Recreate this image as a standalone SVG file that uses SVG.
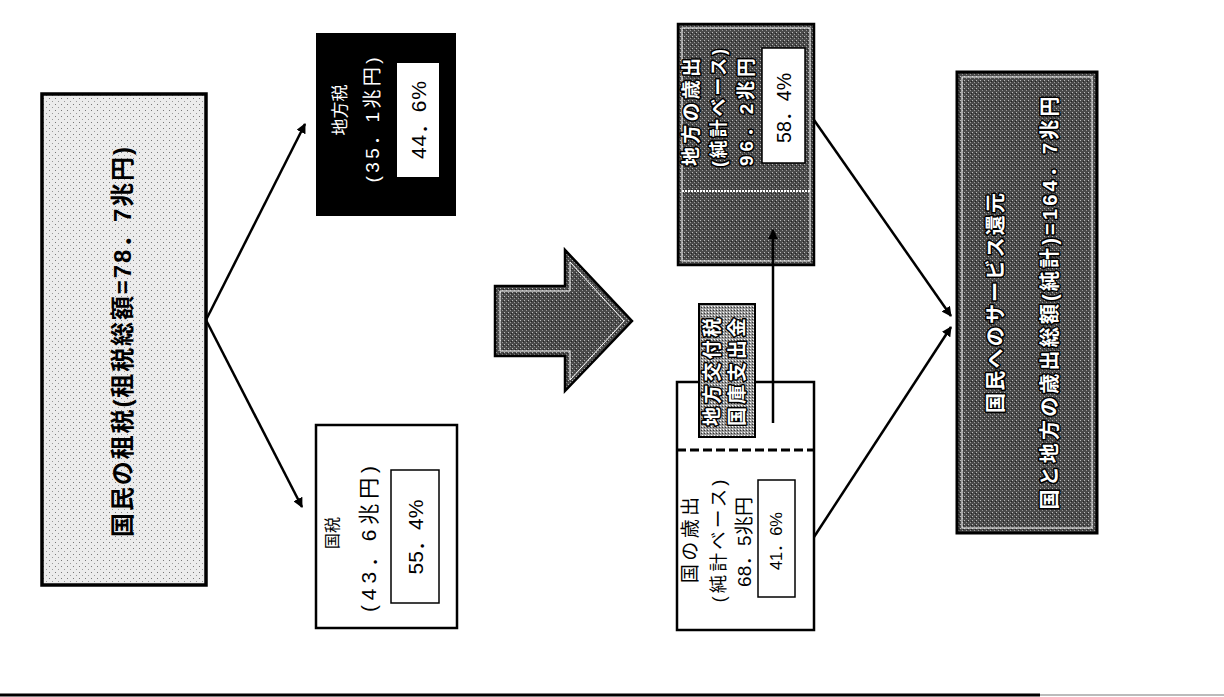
<svg xmlns="http://www.w3.org/2000/svg" width="1224" height="697" viewBox="0 0 1224 697">
<defs>
<pattern id="lightDots" width="6" height="6" patternUnits="userSpaceOnUse">
<rect width="6" height="6" fill="#ececec"/>
<rect x="1" y="2" width="1" height="1" fill="#777"/>
<rect x="4" y="5" width="1" height="1" fill="#999"/>
</pattern>
<pattern id="darkDots" width="4" height="4" patternUnits="userSpaceOnUse">
<rect width="4" height="4" fill="#4a4a4a"/>
<rect x="0" y="0" width="1" height="1" fill="#bbb"/>
<rect x="2" y="2" width="1" height="1" fill="#999"/>
<rect x="3" y="1" width="1" height="1" fill="#222"/>
</pattern>
<pattern id="midDots" width="3" height="3" patternUnits="userSpaceOnUse">
<rect width="3" height="3" fill="#9a9a9a"/>
<rect x="0" y="0" width="1" height="1" fill="#fff"/>
<rect x="2" y="1" width="1" height="1" fill="#333"/>
</pattern>
<marker id="ah" viewBox="0 0 10 10" refX="9" refY="5" markerWidth="4" markerHeight="4" orient="auto">
<path d="M0,0 L10,5 L0,10 z" fill="#000"/>
</marker>
</defs>
<style>
.jp{font-family:"Liberation Sans","Noto Sans CJK JP",sans-serif;}
.bk{fill:#000;}
.wt{fill:#fff;}
.halo{fill:#fff;stroke:#000;stroke-width:3;paint-order:stroke;stroke-linejoin:round;}
.conn{stroke:#000;stroke-width:2.5;fill:none;marker-end:url(#ah);}
</style>

<g id="node-total">
<rect x="42" y="94" width="164" height="491" fill="url(#lightDots)" stroke="#000" stroke-width="3.5"/>
<text class="jp bk" font-size="24" font-weight="bold" text-anchor="middle" dominant-baseline="central" textLength="390" lengthAdjust="spacing" transform="translate(122,342) rotate(-90)">国民の租税(租税総額=78．7兆円)</text>
</g>

<g id="node-chihouzei">
<rect x="316" y="33" width="140" height="183" fill="#000"/>
<text class="jp wt" font-size="17" text-anchor="middle" dominant-baseline="central" transform="translate(340,110) rotate(-90)">地方税</text>
<text class="jp wt" font-size="19" text-anchor="middle" dominant-baseline="central" textLength="125" lengthAdjust="spacing" transform="translate(372,120) rotate(-90)">(35．1兆円)</text>
<rect x="397" y="63" width="42" height="114" fill="#fff"/>
<text class="jp bk" font-size="21" text-anchor="middle" dominant-baseline="central" textLength="78" lengthAdjust="spacing" transform="translate(418,120) rotate(-90)">44．6%</text>
</g>

<g id="node-kokuzei">
<rect x="316" y="425" width="141" height="203" fill="#fff" stroke="#000" stroke-width="2.5"/>
<text class="jp bk" font-size="16" text-anchor="middle" dominant-baseline="central" transform="translate(332,533) rotate(-90)">国税</text>
<text class="jp bk" font-size="21" text-anchor="middle" dominant-baseline="central" textLength="146" lengthAdjust="spacing" transform="translate(368,539) rotate(-90)">(43．6兆円)</text>
<rect x="391" y="470" width="48" height="133" fill="#fff" stroke="#000" stroke-width="1.5"/>
<text class="jp bk" font-size="21" text-anchor="middle" dominant-baseline="central" textLength="75" lengthAdjust="spacing" transform="translate(415,537) rotate(-90)">55．4%</text>
</g>

<g id="node-bigarrow">
<polygon points="495,286 565,286 565,250 632,321 565,391 565,356 495,356" fill="url(#darkDots)" stroke="#000" stroke-width="2.5"/>
<polygon points="500,291 570,291 570,262 624,321 570,380 570,351 500,351" fill="none" stroke="#fff" stroke-width="1"/>
</g>

<g id="node-chihou-saishutsu">
<rect x="678" y="24" width="136" height="241" fill="url(#darkDots)" stroke="#000" stroke-width="2.5"/>
<rect x="682" y="28" width="128" height="233" fill="none" stroke="#fff" stroke-width="1"/>
<line x1="682" y1="191" x2="810" y2="191" stroke="#fff" stroke-width="2" stroke-dasharray="2 1"/>
<text class="jp halo" font-size="19" font-weight="bold" text-anchor="middle" dominant-baseline="central" textLength="108" lengthAdjust="spacing" transform="translate(691,112) rotate(-90)">地方の歳出</text>
<text class="jp halo" font-size="18" font-weight="bold" text-anchor="middle" dominant-baseline="central" textLength="118" lengthAdjust="spacing" transform="translate(719,108) rotate(-90)">(純計ベース)</text>
<text class="jp halo" font-size="19" font-weight="bold" text-anchor="middle" dominant-baseline="central" textLength="108" lengthAdjust="spacing" transform="translate(746,112) rotate(-90)">96．2兆円</text>
<rect x="762" y="48" width="43" height="115" fill="#fff" stroke="#000" stroke-width="1.5"/>
<text class="jp bk" font-size="19.5" text-anchor="middle" dominant-baseline="central" textLength="70" lengthAdjust="spacing" transform="translate(784,108) rotate(-90)">58．4%</text>
</g>

<g id="node-kuni-saishutsu">
<rect x="677" y="382" width="137" height="248" fill="#fff" stroke="#000" stroke-width="2.5"/>
<line x1="677" y1="450" x2="814" y2="450" stroke="#000" stroke-width="3" stroke-dasharray="9 4"/>
<text class="jp bk" font-size="19" text-anchor="middle" dominant-baseline="central" textLength="86" lengthAdjust="spacing" transform="translate(690,540) rotate(-90)">国の歳出</text>
<text class="jp bk" font-size="18.5" text-anchor="middle" dominant-baseline="central" textLength="123" lengthAdjust="spacing" transform="translate(718,541) rotate(-90)">(純計ベース)</text>
<text class="jp bk" font-size="19" text-anchor="middle" dominant-baseline="central" textLength="90" lengthAdjust="spacing" transform="translate(744,542) rotate(-90)">68．5兆円</text>
<rect x="758" y="480" width="37" height="117" fill="#fff" stroke="#000" stroke-width="1.5"/>
<text class="jp bk" font-size="16.5" text-anchor="middle" dominant-baseline="central" textLength="58" lengthAdjust="spacing" transform="translate(776,541) rotate(-90)">41．6%</text>
</g>

<g id="node-label">
<rect x="699" y="304" width="56" height="133" fill="url(#midDots)" stroke="#000" stroke-width="2"/>
<text class="jp halo" font-size="19" font-weight="bold" text-anchor="middle" dominant-baseline="central" textLength="108" lengthAdjust="spacing" transform="translate(712,372) rotate(-90)">地方交付税</text>
<text class="jp halo" font-size="19" font-weight="bold" text-anchor="middle" dominant-baseline="central" textLength="108" lengthAdjust="spacing" transform="translate(737,372) rotate(-90)">国庫支出金</text>
</g>

<g id="node-service">
<rect x="957" y="72" width="140" height="461" fill="url(#darkDots)" stroke="#000" stroke-width="3"/>
<rect x="962" y="77" width="130" height="451" fill="none" stroke="#fff" stroke-width="1"/>
<text class="jp halo" font-size="20" font-weight="bold" text-anchor="middle" dominant-baseline="central" textLength="220" lengthAdjust="spacing" transform="translate(996,303) rotate(-90)">国民へのサービス還元</text>
<text class="jp halo" font-size="20" font-weight="bold" text-anchor="middle" dominant-baseline="central" textLength="413" lengthAdjust="spacing" transform="translate(1050,303) rotate(-90)">国と地方の歳出総額(純計)=164．7兆円</text>
</g>

<g id="connectors">
<line class="conn" x1="206" y1="320" x2="305" y2="124"/>
<line class="conn" x1="206" y1="320" x2="302" y2="507"/>
<line class="conn" x1="773" y1="423" x2="773" y2="230"/>
<line class="conn" x1="814" y1="120" x2="951" y2="316"/>
<line class="conn" x1="814" y1="537" x2="951" y2="327"/>
</g>

<g id="rule">
<line x1="0" y1="695" x2="1040" y2="695" stroke="#000" stroke-width="3"/>
<line x1="1040" y1="695" x2="1224" y2="695" stroke="#bbb" stroke-width="2"/>
</g>
</svg>
